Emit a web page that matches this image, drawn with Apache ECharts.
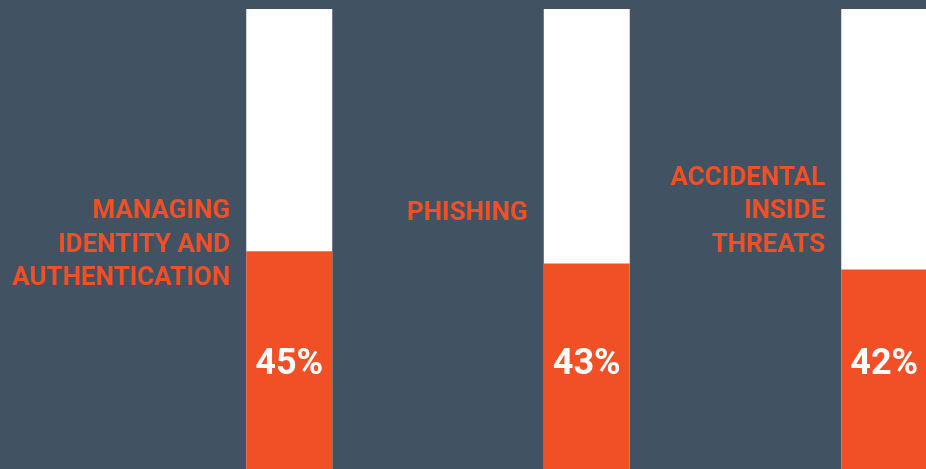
<!DOCTYPE html>
<html>
<head>
<meta charset="utf-8">
<script src="https://cdn.jsdelivr.net/npm/echarts@6/dist/echarts.min.js"></script>
<style>
html,body{margin:0;padding:0;background:#415363;}
#chart{width:926px;height:469px;}
</style>
</head>
<body>
<div id="chart"></div>
<script>
// ---- data ----
const categories = ['MANAGING\nIDENTITY AND\nAUTHENTICATION', 'PHISHING', 'ACCIDENTAL\nINSIDE\nTHREATS'];
const values = [45, 43, 42];
const trackMax = 85;

// ---- layout ----
const labelCenterY = [245, 213, 211.5];
const gridTop = 9;

const chart = echarts.init(document.getElementById('chart'), null, {renderer: 'canvas'});
const option = {
  backgroundColor: '#415363',
  animation: false,
  grid: {left: 140.5, width: 892.5, top: gridTop, height: 515, outerBoundsMode: 'none', containLabel: false},
  xAxis: {type: 'category', data: categories, show: false},
  yAxis: {type: 'value', min: 0, max: trackMax, show: false},
  series: [
    {
      type: 'bar',
      barWidth: 86,
      barGap: '-100%',
      silent: true,
      itemStyle: {color: '#ffffff'},
      data: categories.map((c, i) => ({
        value: trackMax,
        label: {
          show: true,
          formatter: c,
          position: [-16, labelCenterY[i] - gridTop],
          align: 'right',
          verticalAlign: 'middle',
          color: '#F14F25',
          fontFamily: 'Roboto',
          fontWeight: 'bold',
          fontSize: 26,
          lineHeight: 33.5
        }
      }))
    },
    {
      type: 'bar',
      barWidth: 86,
      silent: true,
      itemStyle: {color: '#F14F25'},
      label: {
        show: true,
        position: 'insideBottom',
        distance: 141,
        formatter: p => p.value + '%',
        color: '#ffffff',
        fontFamily: 'Roboto',
        fontWeight: 'bold',
        fontSize: 36,
        lineHeight: 36
      },
      data: values
    }
  ]
};
chart.setOption(option);
</script>
</body>
</html>
